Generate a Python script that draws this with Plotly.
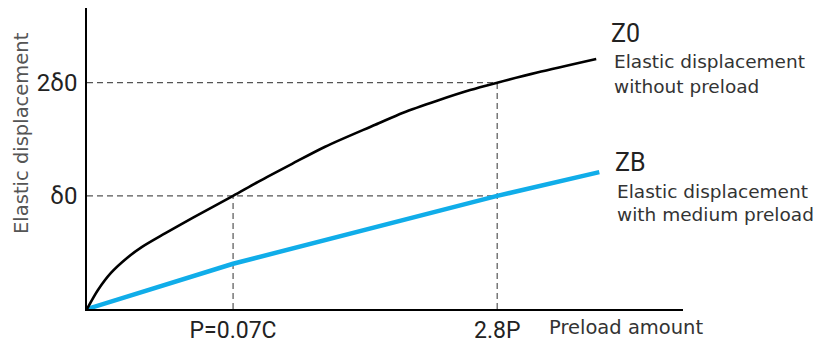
import plotly.graph_objects as go

# Data (units: x in P, y in delta0)
z0_x = [0, 0.075, 0.164, 0.274, 0.377, 0.534, 0.726, 1.0, 1.171, 1.404, 1.630, 1.973, 2.164, 2.397, 2.623, 2.808, 3.082, 3.486]
z0_y = [0, 0.168, 0.319, 0.451, 0.549, 0.668, 0.808, 1.0, 1.124, 1.283, 1.434, 1.628, 1.735, 1.841, 1.935, 2.0, 2.090, 2.210]
zb_x = [0, 1.0, 2.808, 3.507]
zb_y = [0, 0.40, 1.0, 1.21]

x_tick_vals = [1.0, 2.808]
x_tick_text = ["P=0.07C", "2.8P"]
y_tick_vals = [1.0, 2.0]
y_tick_text = ["δ0", "2δ0"]

guide_x = [1.0, 2.808]       # vertical guides (x position)
guide_x_top = [1.0, 2.0]     # vertical guides top (y)
guide_y = [1.0, 2.0]         # horizontal guides (y position)
guide_y_end = [2.808, 2.808] # horizontal guides end (x)

TICKFONT = "Roboto"
LABELFONT = "DejaVu Sans"

fig = go.Figure()
fig.add_trace(go.Scatter(x=zb_x, y=zb_y, mode="lines",
                         line=dict(color="#10ade9", width=4.5), showlegend=False,
                         hoverinfo="skip"))
fig.add_trace(go.Scatter(x=z0_x, y=z0_y, mode="lines", line_shape="spline",
                         line=dict(color="#000000", width=2.6, smoothing=0.8),
                         showlegend=False, hoverinfo="skip"))

dash = "6px,4px"
gline = dict(color="#555555", width=1.2, dash=dash)
for gy, xe in zip(guide_y, guide_y_end):
    fig.add_shape(type="line", x0=0, x1=xe, y0=gy, y1=gy, xref="x", yref="y",
                  line=gline, layer="below")
for gx, yt in zip(guide_x, guide_x_top):
    fig.add_shape(type="line", x0=gx, x1=gx, y0=0, y1=yt, xref="x", yref="y",
                  line=gline, layer="below")

def ann(x, y, text, size, family, color="#333333"):
    fig.add_annotation(x=x, y=y, xref="x", yref="y", text=text, showarrow=False,
                       xanchor="left", yanchor="middle",
                       font=dict(family=family, size=size, color=color))

ann(3.575, 2.434, "Z0", 25, TICKFONT, "#222222")
ann(3.596, 2.186, "Elastic displacement", 18.5, LABELFONT)
ann(3.596, 1.965, "without preload", 18.5, LABELFONT)
ann(3.600, 1.292, "ZB", 25, TICKFONT, "#222222")
ann(3.616, 1.035, "Elastic displacement", 18.5, LABELFONT)
ann(3.616, 0.832, "with medium preload", 18.5, LABELFONT)

fig.add_annotation(x=0.772, y=-0.06, xref="paper", yref="paper", text="Preload amount",
                   showarrow=False, xanchor="left", yanchor="middle",
                   font=dict(family=LABELFONT, size=19.5, color="#333333"))
fig.add_annotation(x=-0.109, y=0.585, xref="paper", yref="paper", text="Elastic displacement",
                   showarrow=False, xanchor="center", yanchor="middle", textangle=-90,
                   font=dict(family=LABELFONT, size=19.5, color="#555555"))

fig.update_layout(
    width=814, height=345,
    margin=dict(l=87, r=131, t=8, b=36, autoexpand=False),
    paper_bgcolor="white", plot_bgcolor="white",
    xaxis=dict(range=[0, 4.08], showgrid=False, zeroline=False, showline=True,
               linecolor="#000000", linewidth=1.6, tickvals=x_tick_vals,
               ticktext=x_tick_text, ticks="", ticklabelstandoff=0, automargin=False,
               tickfont=dict(family=TICKFONT, size=23, color="#222222"), fixedrange=True),
    yaxis=dict(range=[0, 2.66], showgrid=False, zeroline=False, showline=True,
               linecolor="#000000", linewidth=1.6, tickvals=y_tick_vals,
               ticktext=y_tick_text, ticks="", ticklabelstandoff=3, automargin=False,
               tickfont=dict(family=TICKFONT, size=24, color="#222222"),
               fixedrange=True),
)

fig.write_html("out.html", config={"displayModeBar": False},
               post_script="document.body.style.margin='0';document.body.style.overflow='hidden';")
